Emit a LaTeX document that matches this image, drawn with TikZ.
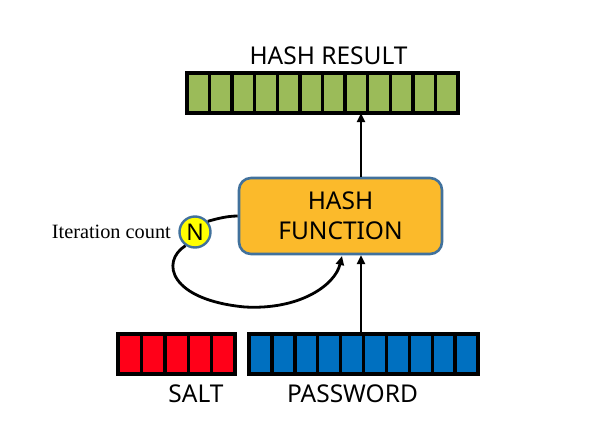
\documentclass[tikz,border=0pt]{standalone}
\usepackage{fontspec}
\setmainfont{Noto Sans}
\newfontfamily\serifit{Liberation Serif}
\usetikzlibrary{arrows.meta,calc}
\definecolor{cgreen}{HTML}{9BBB59}
\definecolor{cred}{HTML}{FF0018}
\definecolor{cblue}{HTML}{0070C0}
\definecolor{corange}{HTML}{FBBA2B}
\definecolor{cborder}{HTML}{41719C}
\definecolor{cyellow}{HTML}{FFFF00}
\tikzset{
  cellbox/.style={draw=black,line width=3.4pt},
  barlabel/.style={font=\fontsize{24.5}{28}\selectfont,inner sep=0pt,anchor=base},
  conn/.style={line width=2.8pt,-{Triangle[length=9pt,width=8pt]}},
  plainconn/.style={line width=2.8pt},
}
\begin{document}
\begin{tikzpicture}[x=1pt,y=-1pt]
\useasboundingbox (0,0) rectangle (598,437);
% bars
\foreach \i in {0,...,11} {
  \filldraw[cellbox,fill=cgreen] ({187+\i*22.58},73) rectangle ({187+(\i+1)*22.58},113);
}
\node[inner sep=0pt,minimum width=271pt,minimum height=40pt] (result) at (322.5,93) {};
\foreach \i in {0,...,4} {
  \filldraw[cellbox,fill=cred] ({118+\i*23.4},334) rectangle ({118+(\i+1)*23.4},374);
}
\node[inner sep=0pt,minimum width=117pt,minimum height=40pt] (salt) at (176.5,354) {};
\foreach \i in {0,...,9} {
  \filldraw[cellbox,fill=cblue] ({249+\i*22.9},334) rectangle ({249+(\i+1)*22.9},374);
}
\node[inner sep=0pt,minimum width=229pt,minimum height=40pt] (pwd) at (363.5,354) {};
% labels
\node[barlabel] (resultlbl) at (328.5,64) {HASH RESULT};
\node[barlabel] (saltlbl) at (196,402) {SALT};
\node[barlabel] (pwdlbl) at (352.5,402) {PASSWORD};
% hash function
\node[draw=cborder,fill=corange,line width=2.6pt,rounded corners=12pt,
      minimum width=203pt,minimum height=76pt,align=center,
      font=\fontsize{24.5}{30}\selectfont] (hashfn) at (340.5,216) {HASH\\FUNCTION};
% N circle
\node[circle,draw=cborder,fill=cyellow,line width=2.4pt,minimum size=31pt,inner sep=0pt,
      font=\fontsize{23}{23}\selectfont] (ncirc) at (195,232) {N};
\node[anchor=east,inner sep=0pt,font=\serifit\fontsize{20.3}{21}\selectfont] (itlbl) at (171,232) {Iteration count};
% connectors
\coordinate (pwdout) at (361,334);
\coordinate (hfin) at (361,255);
\coordinate (hfout) at (361,177);
\coordinate (resin) at (361,113);
\draw[conn] (pwdout) -- (hfin);
\draw[conn] (hfout) -- (resin);
\coordinate (loopin) at (342,256);
\draw[plainconn] (hashfn.west) .. controls (225,216) and (213,220) .. (ncirc.40);
\draw[conn] (ncirc.235) .. controls (160,262) and (170,300) .. (245,307)
  .. controls (300,310) and (335,285) .. (loopin);
\end{tikzpicture}
\end{document}
